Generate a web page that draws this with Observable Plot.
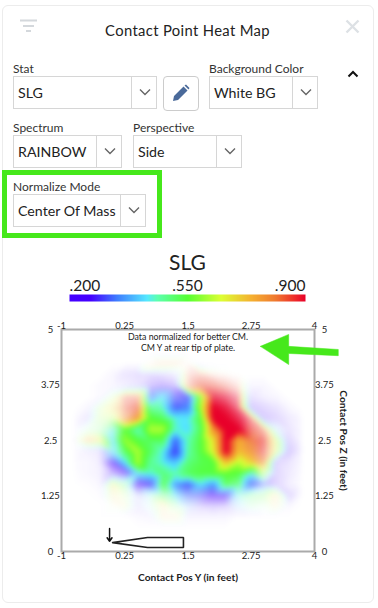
<!DOCTYPE html>
<html><head><meta charset="utf-8">
<script src="https://cdn.jsdelivr.net/npm/d3@7"></script>
<script src="https://cdn.jsdelivr.net/npm/@observablehq/plot@0.6"></script>
<style>
html,body{margin:0;padding:0;background:#fff;width:378px;height:608px;overflow:hidden;font-family:Lato,sans-serif;color:#222}
#card{position:absolute;left:2px;top:5px;width:370px;height:596px;border:1px solid #ececec;border-radius:6px}
.abs{position:absolute}
.lbl{position:absolute;font-size:12px;line-height:14px;color:#333;white-space:nowrap}
.sel{position:absolute;height:31px;border:1px solid #d6d6d6;font-size:14.2px;line-height:31px;color:#222;box-sizing:content-box}
.sel span{position:absolute;left:4px;top:0;white-space:nowrap}
.sel i{position:absolute;top:0;bottom:0;width:1px;background:#d6d6d6}
.sel svg{position:absolute;top:11px}
#plot,#legend{position:absolute;left:0}
svg{overflow:visible}
</style></head><body>
<div id="card"></div>
<svg class="abs" style="left:20px;top:19px" width="18" height="14"><path d="M0 1.5H17M3 7H14M6 12H11" stroke="#d4d8dc" stroke-width="2.2"/></svg>
<div class="abs" style="left:0;width:375px;top:21px;text-align:center;font-size:14.8px;line-height:18px;letter-spacing:.35px;color:#222">Contact Point Heat Map</div>
<svg class="abs" style="left:345px;top:19px" width="15" height="15"><path d="M1.5 1.5L13.5 13.5M13.5 1.5L1.5 13.5" stroke="#dde1e5" stroke-width="2.4"/></svg>
<svg class="abs" style="left:347px;top:70px" width="12" height="8"><path d="M1.5 6.5L6 2L10.5 6.5" fill="none" stroke="#111" stroke-width="2"/></svg>
<div class="abs" style="left:2px;top:170px;width:150px;height:58px;border:5.5px solid #46e81b"></div>
<div class="abs" style="left:163px;top:76px;width:34px;height:33px;border:1px solid #ccc;border-radius:4px"></div>
<svg class="abs" style="left:172px;top:84px" width="18" height="18" viewBox="0 0 18 18"><path d="M1 17L2 12L11.5 2.5L15.5 6.5L6 16Z M12.5 1.5L14 0.5L17.5 4L16.5 5.5Z" fill="#4a6a9a"/></svg>
<div id="controls"></div>
<div class="abs" style="left:0;width:375px;top:249px;text-align:center;font-size:21px;line-height:26px;color:#222">SLG</div>
<div id="legend"></div>
<div id="plot"></div>
<script>
// Controls
const labels = [["Stat",13,62],["Background Color",209,62],["Spectrum",13,121],["Perspective",133,121],["Normalize Mode",13,180]];
const selects = [["SLG",13,76,144,117],["White BG",209,76,109,82],["RAINBOW",13,135,109,82],["Side",133,135,109,82],["Center Of Mass",13,194,133,106]];
const ctl = document.getElementById("controls");
for (const [t,x,y] of labels) ctl.insertAdjacentHTML("beforeend",`<div class="lbl" style="left:${x}px;top:${y}px">${t}</div>`);
for (const [t,x,y,w,d] of selects) ctl.insertAdjacentHTML("beforeend",
 `<div class="sel" style="left:${x}px;top:${y}px;width:${w-2}px"><span>${t}</span><i style="left:${d}px"></i><svg style="left:${d+8}px" width="12" height="9"><path d="M1 1.5L6 6.5L11 1.5" fill="none" stroke="#666" stroke-width="1.4"/></svg></div>`);

// Colour ramp
const domainStops = [.2,.263,.34,.43,.46,.55,.65,.74,.81,.87,.9];
const rangeStops = ["#4400ff","#4400ff","#3f7cff","#55e8ff","#5cffb0","#55ff33","#ddff33","#f5b030","#ef7a30","#ee2a2a","#e8002a"];
const legendTicks = [.2,.55,.9];

// Heat map grid
const xs = [-.75,-.5,-.25,0,.25,.5,.75,1,1.25,1.5,1.75,2,2.25,2.5,2.75,3,3.25,3.5,3.75];
const zs = [4.5,4.25,4,3.75,3.5,3.25,3,2.75,2.5,2.25,2,1.75,1.5,1.25,1,.75,.5,.25];
const slg = [
[25,25,25,25,25,25,25,25,25,25,25,25,25,25,25,25,25,25,25],
[25,25,25,25,25,25,85,85,85,85,25,25,25,25,25,25,25,25,25],
[25,25,25,25,25,25,25,25,25,85,85,85,85,85,25,25,25,25,25],
[25,25,25,25,25,25,25,25,25,85,85,85,85,85,25,25,25,25,25],
[25,25,25,60,85,85,33,43,30,30,60,90,90,90,25,25,25,25,25],
[25,25,60,70,85,85,48,45,31,34,62,92,92,90,25,25,25,25,25],
[25,25,60,60,80,78,55,52,44,43,55,92,92,92,88,25,25,25,25],
[30,50,50,43,55,45,62,62,45,42,52,78,92,92,86,85,40,25,25],
[60,80,70,42,60,54,52,52,32,46,54,68,92,74,82,88,65,25,25],
[25,25,25,42,52,62,52,44,29,47,54,66,92,72,78,88,65,25,25],
[25,25,25,26,42,62,48,44,40,50,53,54,72,62,70,80,25,25,25],
[25,25,25,25,25,42,44,50,46,52,54,54,56,54,44,60,25,25,25],
[25,25,25,70,50,24,28,53,36,31,42,36,52,50,31,30,25,25,25],
[25,25,25,72,60,28,45,50,42,32,30,25,27,45,50,55,75,25,25],
[25,25,25,70,70,27,45,75,50,35,27,25,25,40,50,50,75,25,25],
[25,25,25,25,25,25,25,78,78,25,25,25,25,25,25,25,25,25,25],
[25,25,25,25,25,25,25,25,25,25,25,25,25,25,25,25,25,25,25],
[25,25,25,25,25,25,25,25,25,25,25,25,25,25,25,25,25,25,25]];
const alpha = [
[0,0,0,0,0,0,0,0,0,0,0,0,0,0,0,0,0,0,0],
[0,0,0,0,0,0,.02,.08,.08,.02,0,0,0,0,0,0,0,0,0],
[0,0,0,.03,.1,.12,.12,.1,.05,.12,.18,.06,.02,0,0,0,0,0,0],
[0,0,.02,.03,.06,.1,.2,.25,.2,.2,.45,.4,.25,.1,.03,.03,0,0,0],
[0,0,.02,.08,.25,.28,.5,.65,.55,.7,.85,.7,.55,.3,.1,.05,.03,0,0],
[0,.03,.1,.2,.35,.55,.85,.9,.9,.95,1,1,.85,.5,.2,.15,.1,.03,0],
[.02,.08,.12,.2,.4,.9,1,1,1,1,1,1,1,.8,.38,.2,.15,.08,.03],
[.02,.06,.12,.45,.95,1,1,1,1,1,1,1,1,1,.62,.35,.12,.1,.03],
[.03,.2,.28,.6,1,1,1,1,1,1,1,1,1,1,.85,.55,.28,.15,.03],
[.02,.05,.08,.5,.95,1,1,1,1,1,1,1,1,1,.88,.45,.25,.2,.05],
[.02,.03,.06,.55,.95,1,1,1,1,1,1,1,1,1,.95,.5,.15,.1,.03],
[.01,.03,.05,.25,.45,.8,1,1,1,1,1,1,1,1,.85,.25,.15,.08,.02],
[0,.01,.03,.2,.2,.5,.7,.9,.9,.9,.95,.95,.9,.8,.7,.3,.15,.06,.01],
[0,0,.01,.1,.08,.08,.15,.3,.45,.45,.45,.5,.5,.3,.2,.15,.1,.15,.01],
[0,0,0,.02,.06,.06,.06,.1,.08,.12,.12,.15,.12,.1,.08,.03,.06,.02,0],
[0,0,0,0,0,.02,.03,.06,.06,.03,.03,.03,.03,0,0,0,0,0,0],
[0,0,0,0,0,0,0,0,0,0,0,0,0,0,0,0,0,0,0],
[0,0,0,0,0,0,0,0,0,0,0,0,0,0,0,0,0,0,0]];

// Axes
const xTicks = [-1,.25,1.5,2.75,4];
const zTicks = [0,1.25,2.5,3.75,5];

// Plate outline and annotations, in feet
const plateY = [.01,.7,1.41,1.41,.7,.01];
const plateZ = [.2,.315,.315,.09,.09,.2];
const arrowY = [-.05,-.05];
const arrowZ = [.52,.23];
const greenY = [2.93,3.49,3.49,4.47,4.47,3.49,3.49,2.93];
const greenZ = [4.62,4.89,4.62,4.55,4.41,4.46,4.21,4.62];
const noteLines = ["Data normalized for better CM.","CM Y at rear tip of plate."];
const noteZ = [4.82,4.57];

const grid = [];
zs.forEach((z,i)=>xs.forEach((x,j)=>grid.push({x,z,v:slg[i][j]/100,a:alpha[i][j]})));

const color = {type:"linear",domain:domainStops,range:rangeStops,interpolate:"rgb",clamp:true};

document.getElementById("plot").style.top="305px";
document.getElementById("plot").append(Plot.plot({
  width:378,height:285,marginLeft:61,marginRight:64,marginTop:24,marginBottom:39,
  style:{fontFamily:"Lato,sans-serif",fontSize:"9.5px",color:"#222",background:"transparent",overflow:"visible"},
  x:{domain:[-1,4],ticks:xTicks,tickFormat:String},
  y:{domain:[0,5],ticks:zTicks,tickFormat:String},
  color,
  marks:[
    Plot.raster(grid,{x:"x",y:"z",fill:"v",fillOpacity:"a",interpolate:"barycentric",pixelSize:1,blur:2}),
    Plot.frame({stroke:"#aaa",strokeWidth:2}),
    Plot.axisX({anchor:"bottom",ticks:xTicks,tickFormat:String,tickSize:0,tickPadding:1,label:null}),
    Plot.axisX({anchor:"top",ticks:xTicks,tickFormat:String,tickSize:0,tickPadding:1,label:null}),
    Plot.axisY({anchor:"left",ticks:zTicks,tickFormat:String,tickSize:0,tickPadding:11,textAnchor:"middle",label:null}),
    Plot.axisY({anchor:"right",ticks:zTicks,tickFormat:String,tickSize:0,tickPadding:10,textAnchor:"middle",label:null}),
    Plot.text(noteLines,{x:()=>1.5,y:(d,i)=>noteZ[i],fontSize:8.8,fill:"#222"}),
    Plot.text(["Contact Pos Y (in feet)"],{x:()=>1.5,y:()=>0,dy:26,fontSize:10.2,fontWeight:700,fill:"#222"}),
    Plot.text(["Contact Pos Z (in feet)"],{x:()=>4,y:()=>2.5,dx:29,rotate:90,fontSize:10.2,fontWeight:700,fill:"#222"}),
    Plot.line(plateY.map((y,i)=>[y,plateZ[i]]),{stroke:"#222",strokeWidth:1.6,strokeLinejoin:"miter"}),
    Plot.arrow([0],{x1:()=>arrowY[0],y1:()=>arrowZ[0],x2:()=>arrowY[1],y2:()=>arrowZ[1],stroke:"#111",strokeWidth:1.5,headLength:6,headAngle:70}),
    Plot.line(greenY.map((y,i)=>[y,greenZ[i]]),{fill:"#46e81b",stroke:"#46e81b",strokeWidth:.5})
  ]
}));

document.getElementById("legend").style.top="274px";
document.getElementById("legend").append(Plot.plot({
  width:378,height:30,marginLeft:69,marginRight:73,marginTop:20,marginBottom:3,
  style:{fontFamily:"Lato,sans-serif",color:"#222",background:"transparent",overflow:"visible"},
  x:{domain:[.2,.9],axis:null},y:{domain:[0,1],axis:null},
  color,
  marks:[
    Plot.raster({x1:.2,x2:.9,y1:0,y2:1,width:236,height:1,fill:(x,y)=>x}),
    Plot.text([legendTicks[0]],{x:d=>d,y:()=>1,dy:-8,textAnchor:"start",text:d=>d3.format(".3f")(d).slice(1),fontSize:15.5,fill:"#222"}),
    Plot.text([legendTicks[1]],{x:d=>d,y:()=>1,dy:-8,textAnchor:"middle",text:d=>d3.format(".3f")(d).slice(1),fontSize:15.5,fill:"#222"}),
    Plot.text([legendTicks[2]],{x:d=>d,y:()=>1,dy:-8,textAnchor:"end",text:d=>d3.format(".3f")(d).slice(1),fontSize:15.5,fill:"#222"})
  ]
}));
</script>
</body></html>
